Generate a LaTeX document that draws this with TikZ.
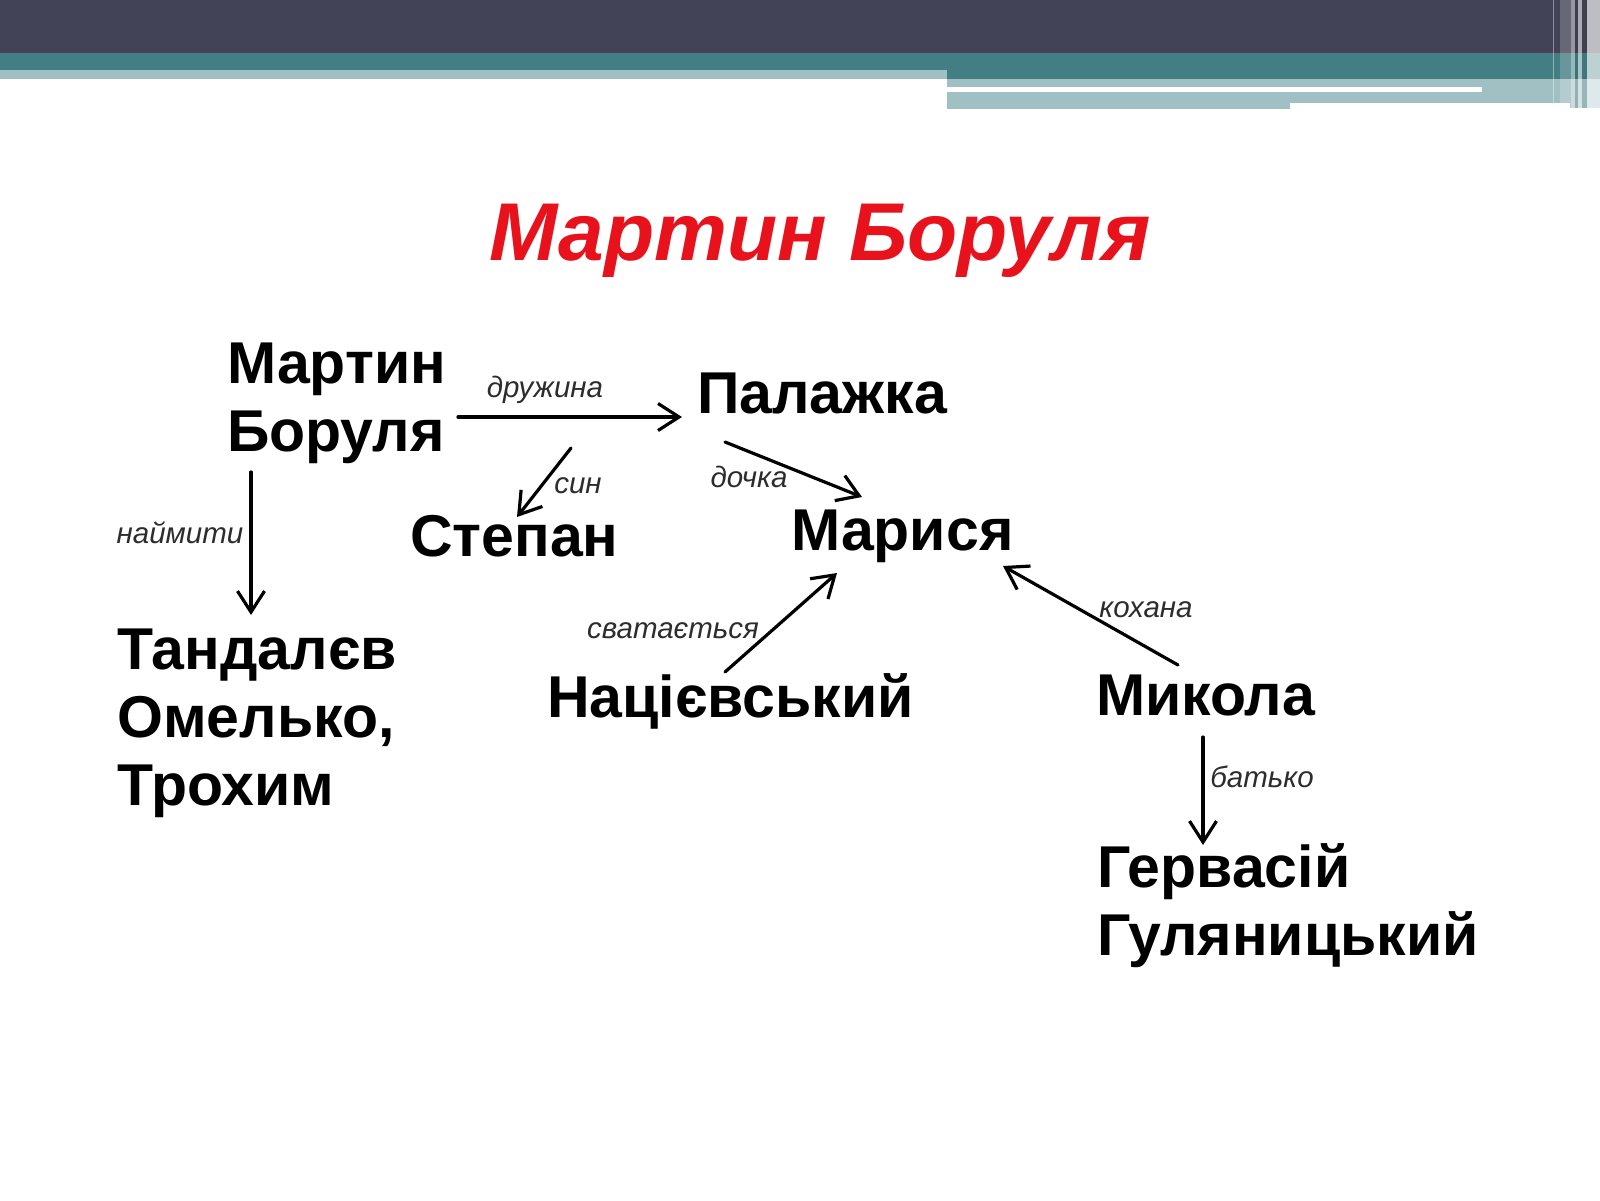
\documentclass[tikz,border=0pt]{standalone}
\usepackage{fontspec}
\setmainfont{Liberation Sans}
\usetikzlibrary{arrows.meta}
\definecolor{hdrdark}{RGB}{66,67,86}
\definecolor{hdrline}{RGB}{74,64,86}
\definecolor{hdrteal}{RGB}{66,126,131}
\definecolor{hdrlight}{RGB}{160,192,195}
\definecolor{titlered}{RGB}{232,18,28}
\definecolor{lblgray}{RGB}{45,45,45}
\begin{document}
\begin{tikzpicture}[x=1pt,y=-1pt,
  person/.style={anchor=base west, inner sep=0pt, font=\fontsize{59}{68}\selectfont\bfseries, align=left},
  rel/.style={anchor=base, inner sep=0pt, font=\fontsize{29.5}{35}\selectfont\itshape, text=lblgray},
  link/.style={-{Straight Barb[length=21pt,width=27pt,line width=3.2pt]}, line width=3.2pt, draw=black, line cap=round}]
\useasboundingbox (0,0) rectangle (1600,1200);
\fill[white] (0,0) rectangle (1600,1200);
% header bands
\fill[hdrdark] (0,0) rectangle (1600,53);
\fill[hdrline] (0,50) rectangle (1600,53);
\fill[hdrteal] (0,53) rectangle (1600,70);
\fill[hdrteal] (947,70) rectangle (1600,79);
\fill[hdrlight] (0,70) rectangle (947,79);
\fill[hdrlight] (947,79) rectangle (1600,103);
\fill[hdrlight] (947,103) rectangle (1290,109);
\fill[hdrlight] (1570,103) rectangle (1600,108);
\fill[white] (947,87) rectangle (1482,92);
% right edge stripes
\fill[white,opacity=0.2] (1560,0) rectangle (1571,108);
\fill[white,opacity=0.45] (1571,0) rectangle (1575,108);
\fill[black,opacity=0.08] (1575,0) rectangle (1578,108);
\fill[white,opacity=0.55] (1578,0) rectangle (1582,108);
\fill[black,opacity=0.05] (1582,0) rectangle (1587,108);
\fill[white,opacity=0.65] (1587,0) rectangle (1600,108);
\draw[white,opacity=0.4,line width=0.8pt] (1553.5,0) -- (1553.5,108);
% title
\node[anchor=base, inner sep=0pt, font=\fontsize{82}{98}\selectfont\bfseries\itshape, text=titlered] (title) at (820,260) {Мартин Боруля};
% persons (base = baseline of the last line)
\node[person] (mb) at (227,451) {Мартин\\Боруля};
\node[person] (pal) at (697,413) {Палажка};
\node[person] (stp) at (410,556) {Степан};
\node[person] (mar) at (791,550) {Марися};
\node[person] (tand) at (117,805) {Тандалєв\\Омелько,\\Трохим};
\node[person] (nac) at (547,717) {Націєвський};
\node[person] (mik) at (1096,715) {Микола};
\node[person] (gerv) at (1097,955) {Гервасій\\Гуляницький};
% connectors
\draw[link] ([shift={(231,-34)}]mb.base west) -- ([shift={(-15,4)}]pal.base west);
\draw[link] ([shift={(344,-3)}]mb.base west) -- ([shift={(107,-39)}]stp.base west);
\draw[link] ([shift={(28,29)}]pal.base west) -- ([shift={(71,-53)}]mar.base west);
\draw[link] ([shift={(24,21)}]mb.base west) -- ([shift={(134,-190)}]tand.base west);
\draw[link] ([shift={(178,-45)}]nac.base west) -- ([shift={(46,23)}]mar.base west);
\draw[link] ([shift={(82,-50)}]mik.base west) -- ([shift={(212,16)}]mar.base west);
\draw[link] ([shift={(107,22)}]mik.base west) -- ([shift={(106,-110)}]gerv.base west);
% relation labels
\node[rel] (l1) at (545,397) {дружина};
\node[rel] (l2) at (578,493) {син};
\node[rel] (l3) at (749,487) {дочка};
\node[rel] (l4) at (180,543) {наймити};
\node[rel] (l5) at (673,638) {сватається};
\node[rel] (l6) at (1146,617) {кохана};
\node[rel] (l7) at (1262,787) {батько};
\end{tikzpicture}
\end{document}
